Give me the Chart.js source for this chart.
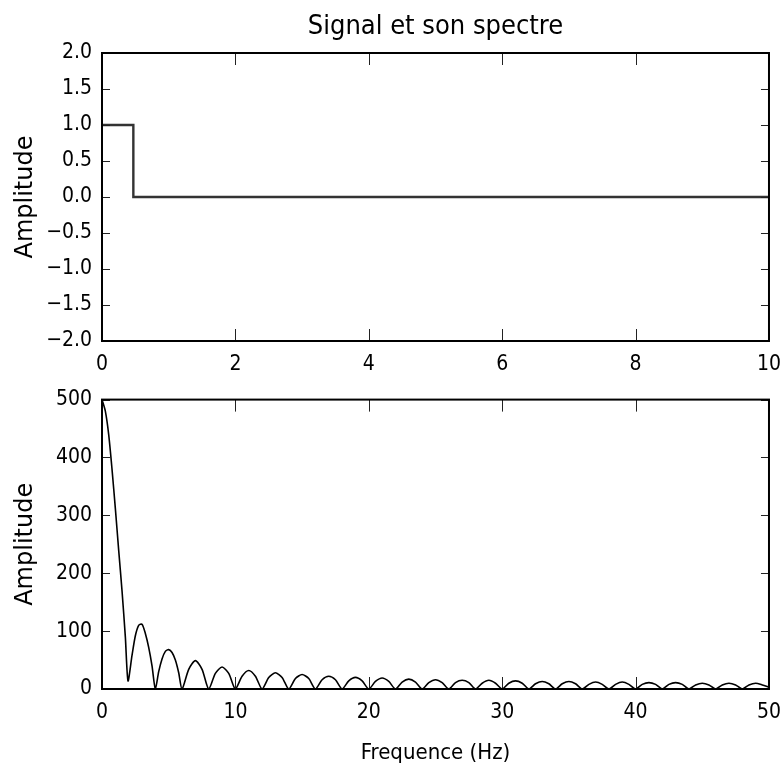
<!DOCTYPE html>
<html>
<head>
<meta charset="utf-8">
<script src="https://cdn.jsdelivr.net/npm/chart.js@4/dist/chart.umd.min.js"></script>
<style>
  body { margin: 0; background: #fff; }
  #wrap { position: relative; width: 781px; height: 771px; overflow: hidden; }
  canvas { position: absolute; left: 0; }
  #signalChart { top: 0; }
  #spectrumChart { top: 377px; }
</style>
</head>
<body>
<div id="wrap">
  <canvas id="signalChart" width="792" height="385"></canvas>
  <canvas id="spectrumChart" width="792" height="394"></canvas>
</div>
<script>
// signal: rectangular pulse (time in s)
const signalTime = [0, 0.47, 0.47, 10]
const signalAmp = [1, 1, 0, 0]

// spectrum: amplitude (frequency in Hz)
const spectrumFreq = [
  0, 0.25, 0.5, 0.75, 1, 1.25, 1.5, 1.75, 1.95,
  2.25, 2.5, 2.75, 3, 3.25, 3.5, 3.75, 4,
  4.25, 4.5, 4.75, 5, 5.25, 5.5, 5.75, 6,
  6.5, 7, 7.5, 8,
  8.5, 9, 9.5, 10,
  10.5, 11, 11.5, 12,
  12.5, 13, 13.5, 14,
  14.5, 15, 15.5, 16,
  16.5, 17, 17.5, 18,
  18.5, 19, 19.5, 20,
  20.5, 21, 21.5, 22,
  22.5, 23, 23.5, 24,
  24.5, 25, 25.5, 26,
  26.5, 27, 27.5, 28,
  28.5, 29, 29.5, 30,
  30.5, 31, 31.5, 32,
  32.5, 33, 33.5, 34,
  34.5, 35, 35.5, 36,
  36.5, 37, 37.5, 38,
  38.5, 39, 39.5, 40,
  40.5, 41, 41.5, 42,
  42.5, 43, 43.5, 44,
  44.5, 45, 45.5, 46,
  46.5, 47, 47.5, 48,
  48.5, 49, 49.5, 50
]
const spectrumAmp = [
  500, 480, 440, 380, 312, 240, 170, 90, 14,
  58, 92, 110, 112, 96, 72, 40, 0,
  30, 52, 65, 68, 63, 50, 28, 0,
  34, 49, 34, 0,
  27, 38, 27, 0,
  22, 32, 22, 0,
  20, 28, 20, 0,
  18, 25, 18, 0,
  16, 22, 16, 0,
  14, 20, 14, 0,
  13, 19, 13, 0,
  12, 17, 12, 0,
  11, 16, 11, 0,
  11, 15, 11, 0,
  10, 15, 10, 0,
  10, 14, 10, 0,
  9, 13, 9, 0,
  9, 13, 9, 0,
  8, 12, 8, 0,
  8, 12, 8, 0,
  8, 11, 8, 0,
  8, 11, 8, 0,
  7, 10, 7, 0,
  7, 10, 7, 0,
  7, 10, 7, 3
]

const signalXTicks = [0, 10, 2]     // min, max, step
const signalYTicks = [-2, 2, 0.5]
const spectrumXTicks = [0, 50, 10]
const spectrumYTicks = [0, 500, 100]

const narrow = "'Liberation Sans Narrow', 'DejaVu Sans Condensed', 'Arial Narrow', sans-serif"
const wide = "'DejaVu Sans', sans-serif"

// matplotlib-like box with inward ticks on all four sides
const frameAndTicks = {
  id: 'frameAndTicks',
  afterDraw(chart) {
    const { ctx, chartArea: a, scales: { x, y } } = chart
    ctx.save()
    ctx.strokeStyle = '#222'
    ctx.lineWidth = 1
    ctx.beginPath()
    x.ticks.forEach(t => {
      const px = Math.round(x.getPixelForValue(t.value)) + 0.5
      ctx.moveTo(px, a.bottom); ctx.lineTo(px, a.bottom - 12)
      ctx.moveTo(px, a.top); ctx.lineTo(px, a.top + 12)
    })
    y.ticks.forEach(t => {
      const py = Math.round(y.getPixelForValue(t.value)) + 0.5
      ctx.moveTo(a.left, py); ctx.lineTo(a.left + 8, py)
      ctx.moveTo(a.right, py); ctx.lineTo(a.right - 8, py)
    })
    ctx.stroke()
    ctx.strokeStyle = '#000'
    ctx.lineWidth = 2
    ctx.strokeRect(a.left, a.top, a.width, a.height)
    ctx.restore()
  }
}

let toPoints = (xs, ys) => xs.map((v, i) => ({ x: v, y: ys[i] }))

let minusSign = s => s.replace('-', '\u2212')

let makeScales = (xt, yt, yFormat, xHeight, xTitle) => ({
  x: {
    type: 'linear', min: xt[0], max: xt[1],
    grid: { display: false, drawTicks: false },
    border: { display: false },
    ticks: { stepSize: xt[2], padding: 11, color: '#000', maxRotation: 0, autoSkip: false,
             font: { family: narrow, size: 21 } },
    title: xTitle ? { display: true, text: xTitle, color: '#000', padding: { top: 0, bottom: 5 },
                      font: { family: narrow, size: 22 } } : { display: false },
    afterFit: s => { s.height = xHeight }
  },
  y: {
    min: yt[0], max: yt[1],
    grid: { display: false, drawTicks: false },
    border: { display: false },
    ticks: { stepSize: yt[2], padding: 10, color: '#000', autoSkip: false,
             font: { family: narrow, size: 21 }, callback: yFormat },
    title: { display: true, text: 'Amplitude', color: '#000', padding: { top: 11, bottom: 0 },
             font: { family: wide, size: 24 } },
    afterFit: s => { s.width = 102 }
  }
})

let createSignalChart = () => {
  new Chart(document.getElementById('signalChart'), {
    type: 'line',
    data: {
      datasets: [{
        data: toPoints(signalTime, signalAmp),
        borderColor: '#333',
        borderWidth: 2.4,
        pointRadius: 0,
        tension: 0
      }]
    },
    options: {
      responsive: false,
      animation: false,
      devicePixelRatio: 1,
      layout: { padding: 0 },
      plugins: {
        legend: { display: false },
        tooltip: { enabled: false },
        title: {
          display: true,
          fullSize: false,
          text: 'Signal et son spectre',
          color: '#000',
          font: { family: narrow, size: 27, weight: 'normal' },
          padding: { top: 11, bottom: 9.6 }
        }
      },
      scales: makeScales(signalXTicks, signalYTicks, v => minusSign(v.toFixed(1)), 44, null)
    },
    plugins: [frameAndTicks]
  })
}

let createSpectrumChart = () => {
  new Chart(document.getElementById('spectrumChart'), {
    type: 'line',
    data: {
      datasets: [{
        data: toPoints(spectrumFreq, spectrumAmp),
        borderColor: '#000',
        borderWidth: 1.6,
        pointRadius: 0,
        tension: 0.25
      }]
    },
    options: {
      responsive: false,
      animation: false,
      devicePixelRatio: 1,
      layout: { padding: 0 },
      plugins: {
        legend: { display: false },
        tooltip: { enabled: false }
      },
      scales: makeScales(spectrumXTicks, spectrumYTicks, v => String(v), 82, 'Frequence (Hz)')
    },
    plugins: [frameAndTicks]
  })
}

createSignalChart()
createSpectrumChart()
</script>
</body>
</html>
